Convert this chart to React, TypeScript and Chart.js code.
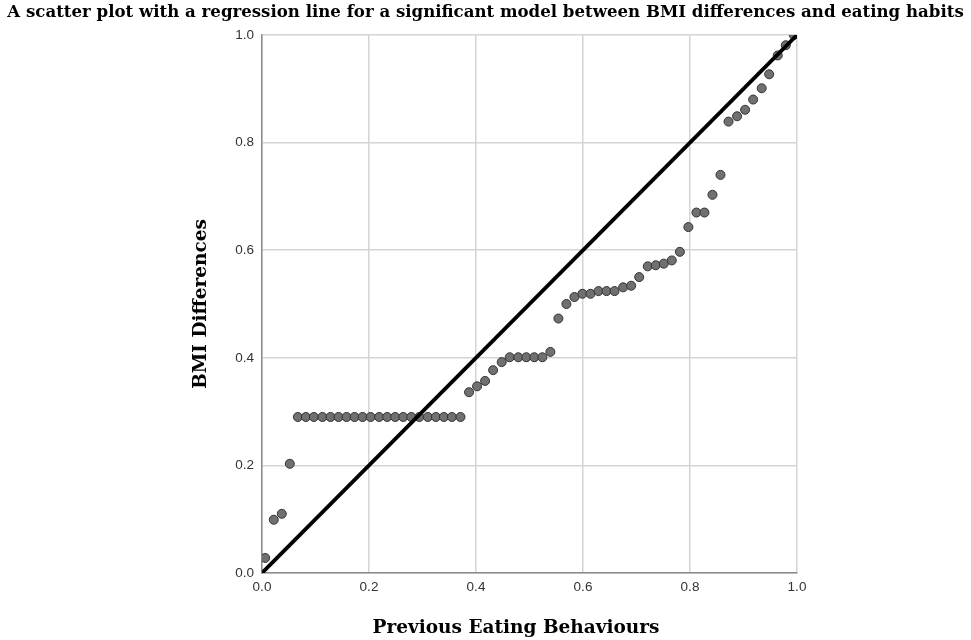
import React, { useEffect, useRef } from "react";
import { Chart, registerables } from "chart.js";

Chart.register(...registerables);

const titleText =
  "A scatter plot with a regression line for a significant model between BMI differences and eating habits";
const xTitle = "Previous Eating Behaviours";
const yTitle = "BMI Differences";

const xValues = [
  0.006, 0.022, 0.037, 0.052,
  0.067, 0.082, 0.097, 0.113, 0.128, 0.143, 0.158, 0.173, 0.188, 0.203, 0.219,
  0.234, 0.249, 0.264, 0.279, 0.294, 0.310, 0.325, 0.340, 0.355, 0.371,
  0.387, 0.402, 0.417, 0.432, 0.448, 0.463, 0.479, 0.494, 0.509, 0.524, 0.539,
  0.554, 0.569, 0.584, 0.599, 0.614, 0.629, 0.644, 0.659, 0.675, 0.690, 0.705,
  0.721, 0.736, 0.751, 0.766, 0.781,
  0.797, 0.812, 0.827, 0.842, 0.857, 0.872, 0.888, 0.903, 0.918, 0.934, 0.948,
  0.964, 0.979, 0.994,
];

const yValues = [
  0.028, 0.099, 0.110, 0.203,
  0.290, 0.290, 0.290, 0.290, 0.290, 0.290, 0.290, 0.290, 0.290, 0.290, 0.290,
  0.290, 0.290, 0.290, 0.290, 0.290, 0.290, 0.290, 0.290, 0.290, 0.290,
  0.336, 0.347, 0.357, 0.377, 0.392, 0.401, 0.401, 0.401, 0.401, 0.401, 0.411,
  0.473, 0.500, 0.513, 0.519, 0.519, 0.524, 0.524, 0.524, 0.531, 0.534, 0.550,
  0.570, 0.572, 0.575, 0.581, 0.597,
  0.643, 0.670, 0.670, 0.703, 0.740, 0.839, 0.849, 0.861, 0.880, 0.901, 0.927,
  0.962, 0.981, 1.0,
];

const lineX = [0, 1];
const lineY = [0, 1];
const tickValues = [0, 0.2, 0.4, 0.6, 0.8, 1.0];

const titleFont = "bold 16.6px 'DejaVu Serif'";
const axisTitleFont = "bold 18.5px 'DejaVu Serif'";

const titlePlugin = {
  id: "freeTitle",
  afterDraw(chart: any) {
    const ctx = chart.ctx as CanvasRenderingContext2D;
    ctx.save();
    ctx.fillStyle = "#000000";
    ctx.textAlign = "center";
    ctx.textBaseline = "alphabetic";
    ctx.font = titleFont;
    ctx.fillText(titleText, chart.width / 2, 17);
    ctx.font = axisTitleFont;
    ctx.fillText(xTitle, 516, 633);
    ctx.restore();
  },
};

export default function App() {
  const ref = useRef<HTMLCanvasElement | null>(null);

  useEffect(() => {
    document.body.style.margin = "0";
    const canvas = ref.current;
    if (!canvas) return;
    const chart = new Chart(canvas, {
      type: "scatter",
      data: {
        datasets: [
          {
            type: "line",
            data: lineX.map((x, i) => ({ x, y: lineY[i] })),
            borderColor: "#000000",
            borderWidth: 3.8,
            pointRadius: 0,
            fill: false,
            order: 1,
          } as any,
          {
            data: xValues.map((x, i) => ({ x, y: yValues[i] })),
            backgroundColor: "#707070",
            borderColor: "#333333",
            borderWidth: 1,
            pointRadius: 4.5,
            order: 2,
          },
        ],
      },
      options: {
        animation: false,
        responsive: false,
        maintainAspectRatio: false,
        layout: { padding: { left: 190, right: 174, top: 35, bottom: 0 } },
        plugins: {
          legend: { display: false },
          tooltip: { enabled: false },
          title: { display: false },
        },
        scales: {
          x: {
            type: "linear",
            min: 0,
            max: 1,
            afterBuildTicks: (s: any) => {
              s.ticks = tickValues.map((v) => ({ value: v }));
            },
            afterFit: (s: any) => {
              s.height = 67;
            },
            ticks: {
              color: "#333333",
              font: { family: "Liberation Sans", size: 13.5 },
              padding: 6,
              callback: (v: any) => Number(v).toFixed(1),
              maxRotation: 0,
            },
            grid: {
              color: "#d4d4d4",
              lineWidth: 1.5,
              drawTicks: false,
            },
            border: { color: "#8c8c8c", width: 1.5 },
            title: { display: false },
          },
          y: {
            type: "linear",
            min: 0,
            max: 1,
            afterBuildTicks: (s: any) => {
              s.ticks = tickValues.map((v) => ({ value: v }));
            },
            afterFit: (s: any) => {
              s.width = 72;
            },
            ticks: {
              color: "#333333",
              font: { family: "Liberation Sans", size: 13.5 },
              padding: 8,
              callback: (v: any) => Number(v).toFixed(1),
            },
            grid: {
              color: "#d4d4d4",
              lineWidth: 1.5,
              drawTicks: false,
            },
            border: { color: "#8c8c8c", width: 1.5 },
            title: {
              display: true,
              text: yTitle,
              color: "#000000",
              font: { family: "DejaVu Serif", size: 18.5, weight: "bold" },
              padding: { top: 0, bottom: 0 },
            },
          },
        },
      },
      plugins: [titlePlugin],
    });
    return () => chart.destroy();
  }, []);

  return (
    <div style={{ position: "relative", width: 971, height: 640 }}>
      <canvas ref={ref} width={971} height={640} style={{ width: 971, height: 640 }} />
    </div>
  );
}
